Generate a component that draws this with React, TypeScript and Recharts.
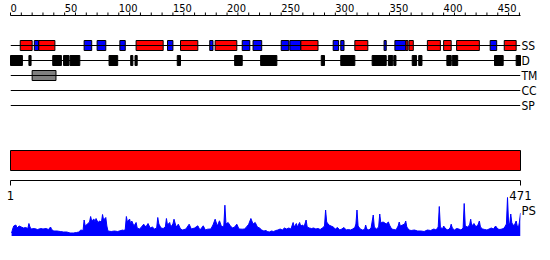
import React from 'react';
import { ComposedChart, XAxis, YAxis, ReferenceArea, Line, Scatter, Area } from 'recharts';

// ---------- data ----------
const SEQ_START = 1;
const SEQ_END = 471;
const topTicks = [0, 10, 20, 30, 40, 50, 60, 70, 80, 90, 100, 110, 120, 130, 140, 150, 160, 170, 180, 190, 200, 210, 220, 230, 240, 250, 260, 270, 280, 290, 300, 310, 320, 330, 340, 350, 360, 370, 380, 390, 400, 410, 420, 430, 440, 450, 460, 470];
const topLabels = [0, 50, 100, 150, 200, 250, 300, 350, 400, 450];
const bottomTicks = [1, 471];
const trackNames = ['SS', 'D', 'TM', 'CC', 'SP'];

const helices: [number, number][] = [
  [9, 20], [26, 41], [116, 141], [157, 173], [189, 209], [268, 284], [318, 330],
  [365, 367], [368, 372], [385, 397], [400, 407], [412, 433], [456, 467],
];
const strands: [number, number][] = [
  [22, 26], [68, 75], [80, 88], [101, 106], [145, 150], [184, 187], [214, 221],
  [224, 232], [250, 257], [258, 268], [298, 303], [305, 308], [345, 347], [355, 365], [443, 449],
];
const disorder: [number, number][] = [
  [0, 11], [17, 19], [39, 47], [49, 54], [55, 64], [91, 99], [111, 113], [115, 117],
  [154, 157], [207, 214], [231, 246], [287, 290], [305, 318], [334, 347], [349, 353],
  [354, 356], [371, 375], [377, 380], [403, 407], [408, 413], [447, 455], [467, 471],
];
const transmembrane: [number, number][] = [[20, 42]];
const coiledCoil: [number, number][] = [];
const signalPeptide: [number, number][] = [];

const psPoints: [number, number][] = [
  [1, 3], [2, 7], [3, 10], [5, 11], [6, 8], [8, 10], [10, 9], [12, 8], [14, 8.5], [16, 7.5],
  [17, 12.5], [18, 9], [19, 7], [22, 7.5], [25, 6.5], [28, 7.5], [30, 7], [33, 7.5], [35, 6.5],
  [37, 9], [38, 6.5], [40, 5], [43, 5], [46, 4.5], [49, 4], [52, 4], [55, 3], [58, 3], [61, 3.5],
  [63, 4], [65, 6], [67, 5.5], [68, 16], [69, 10], [71, 12], [73, 14], [74, 19.5], [75, 15],
  [77, 17], [78, 14], [79, 17.5], [81, 13], [82, 15], [84, 14], [85, 21.5], [86, 16], [88, 18.5],
  [89, 10], [90, 5], [93, 4.5], [96, 5], [99, 4.5], [102, 5.5], [104, 6], [105, 5], [106, 7],
  [107, 19.5], [108, 14], [110, 17], [111, 12], [112, 15], [114, 10], [116, 13.5], [117, 8],
  [119, 7], [121, 9], [123, 11.8], [125, 9], [127, 12.5], [129, 8], [131, 9], [133, 7], [135, 8],
  [136, 18.5], [137, 12], [139, 8], [141, 7.5], [143, 9], [144, 17.5], [145, 11], [147, 13.5],
  [148, 9], [150, 12], [151, 16.8], [153, 9], [155, 11.8], [157, 7], [159, 6], [162, 7],
  [165, 11.8], [167, 7], [170, 8], [173, 10.2], [175, 6], [178, 10.2], [180, 6], [182, 6.8],
  [185, 7], [187, 11], [189, 16.8], [191, 10], [193, 15.2], [195, 9], [197, 10], [198, 30.8],
  [199, 12], [201, 13.5], [203, 10.2], [205, 8], [207, 9], [209, 11.8], [211, 7], [214, 6.8],
  [216, 7], [218, 9], [220, 11.8], [222, 17.5], [224, 12], [226, 13.5], [228, 9], [230, 8],
  [232, 6], [234, 5], [236, 5.5], [237, 4.5], [239, 4], [241, 5], [243, 4.5], [245, 5.5],
  [247, 6], [249, 7], [251, 6], [253, 8], [255, 7], [257, 8], [259, 7], [261, 13.5], [262, 9],
  [264, 12.5], [265, 9], [267, 13.5], [268, 10], [270, 11], [271, 9], [273, 16], [274, 9],
  [276, 8], [278, 7.5], [280, 8], [282, 7], [284, 7.5], [286, 6.5], [288, 8], [290, 10],
  [291, 26], [292, 14], [294, 11], [296, 10], [298, 9], [300, 7], [302, 8.5], [304, 6], [306, 7],
  [308, 8.5], [310, 6], [312, 6.5], [314, 6], [316, 7], [318, 8.5], [319, 12], [320, 26],
  [321, 10], [323, 7], [325, 6], [327, 6.5], [328, 11], [329, 7], [331, 6], [333, 8], [335, 21],
  [336, 9], [338, 7], [340, 9], [341, 22], [342, 13], [344, 14], [345, 13.5], [347, 12],
  [349, 14], [350, 11], [352, 7], [354, 6.5], [356, 6], [358, 10], [359, 14], [360, 10],
  [362, 11], [364, 12], [365, 15], [366, 9], [368, 6], [370, 5.5], [373, 6], [376, 5], [379, 5],
  [382, 4.5], [385, 6], [388, 5.5], [391, 7], [393, 6], [395, 9], [396, 29.5], [397, 9],
  [399, 7], [400, 10], [402, 7], [404, 6], [406, 8], [407, 11.8], [408, 8], [410, 6],
  [412, 7.5], [414, 7], [416, 6], [418, 8], [419, 32.5], [420, 10], [422, 9], [424, 11],
  [425, 16.8], [426, 10], [428, 12.5], [430, 9], [432, 11.8], [433, 15], [434, 9], [436, 7],
  [438, 6.5], [440, 6], [442, 7], [444, 8], [446, 7], [448, 10], [450, 7], [452, 6.5], [454, 7],
  [456, 8], [458, 12], [459, 38.5], [460, 13], [461, 12], [462, 22], [463, 13], [465, 10],
  [467, 15], [468, 10], [469, 8], [470, 14], [471, 23],
];

// ---------- layout ----------
const FONT = "'DejaVu Sans Condensed', 'DejaVu Sans', sans-serif";
const TRACK_Y: Record<string, number> = { SS: 45.5, D: 60.5, TM: 75.5, CC: 90.5, SP: 105.5 };
const BOX_HALF = 5;
const SEQ_BAR_Y: [number, number] = [150.5, 170.5];
const PS_LABEL_Y = 26;

const psData = psPoints.map(([r, v]) => ({ x: r, v }));
const trackTicks = trackNames.map((n) => TRACK_Y[n]);
const seqEnds = [SEQ_START, SEQ_END].map((x) => ({ x, y: (SEQ_BAR_Y[0] + SEQ_BAR_Y[1]) / 2 }));

const TopTick = (props: any) => {
  const { x, y, payload } = props;
  if (!topLabels.includes(payload.value)) return <g />;
  return (
    <text x={x} y={y} textAnchor="start" fontSize={11} fill="#000" fontFamily={FONT}>
      {payload.value}
    </text>
  );
};

const BottomTick = (props: any) => {
  const { x, y, payload } = props;
  return (
    <text x={x} y={y} dy={12.5} textAnchor="middle" fontSize={13} fill="#000" fontFamily={FONT}>
      {payload.value}
    </text>
  );
};

const TrackTick = (props: any) => {
  const { x, y, payload } = props;
  const name = trackNames[trackTicks.indexOf(payload.value)];
  return (
    <text x={x} y={y} dy={4.4} textAnchor="start" fontSize={12} fill="#000" fontFamily={FONT}>
      {name}
    </text>
  );
};

const PsTick = (props: any) => {
  const { x, y } = props;
  return (
    <text x={x} y={y} dy={4.6} textAnchor="start" fontSize={13} fill="#000" fontFamily={FONT}>
      PS
    </text>
  );
};

const segs = (list: [number, number][], track: string, fill: string, prefix: string) =>
  list.map(([s, e], i) => (
    <ReferenceArea
      key={`${prefix}${i}`}
      xAxisId="top"
      yAxisId="t"
      x1={s}
      x2={e}
      y1={TRACK_Y[track] - BOX_HALF}
      y2={TRACK_Y[track] + BOX_HALF}
      fill={fill}
      fillOpacity={1}
      stroke="#000"
      strokeWidth={1}
      ifOverflow="visible"
    />
  ));

export default function App() {
  return (
    <div style={{ position: 'absolute', left: 0, top: 0, width: 550, height: 260, background: '#fff', fontFamily: FONT }}>
      <div style={{ position: 'absolute', left: 0, top: 190 }}>
        <ComposedChart width={550} height={46} data={psData} margin={{ top: 0, right: 0, bottom: 0, left: 10.5 }}>
          <XAxis dataKey="x" type="number" domain={[0, SEQ_END]} hide allowDataOverflow />
          <YAxis
            orientation="right"
            type="number"
            domain={[0, 46]}
            width={29.5}
            ticks={[PS_LABEL_Y]}
            interval={0}
            axisLine={false}
            tickLine={false}
            tickSize={0}
            tickMargin={1}
            tick={PsTick}
            allowDataOverflow
          />
          <Area
            dataKey="v"
            type="linear"
            stroke="#0000ff"
            strokeWidth={1}
            fill="#0000ff"
            fillOpacity={1}
            dot={false}
            activeDot={false}
            isAnimationActive={false}
          />
        </ComposedChart>
      </div>
      <div style={{ position: 'absolute', left: 0, top: 0 }}>
        <ComposedChart width={550} height={206} data={seqEnds} margin={{ top: 0.5, right: 0, bottom: 6, left: 10.5 }}>
          <XAxis
            xAxisId="top"
            dataKey="x"
            orientation="top"
            type="number"
            domain={[0, SEQ_END]}
            ticks={topTicks}
            interval={0}
            height={15}
            tickSize={3}
            tickMargin={1}
            stroke="#000"
            tick={TopTick}
            allowDataOverflow
          />
          <XAxis
            xAxisId="bot"
            dataKey="x"
            orientation="bottom"
            type="number"
            domain={[SEQ_START, SEQ_END]}
            ticks={bottomTicks}
            interval={0}
            height={19.5}
            tickSize={5}
            tickMargin={2}
            stroke="#000"
            tick={BottomTick}
            allowDataOverflow
          />
          <YAxis
            yAxisId="t"
            orientation="right"
            type="number"
            domain={[15.5, 180.5]}
            reversed
            width={29.5}
            ticks={trackTicks}
            interval={0}
            axisLine={false}
            tickLine={false}
            tickSize={0}
            tickMargin={1}
            tick={TrackTick}
            allowDataOverflow
          />
          {trackNames.map((n) => (
            <Line
              key={n}
              xAxisId="top"
              yAxisId="t"
              data={[{ x: 0, y: TRACK_Y[n] }, { x: SEQ_END, y: TRACK_Y[n] }]}
              dataKey="y"
              stroke="#000"
              strokeWidth={1}
              dot={false}
              activeDot={false}
              isAnimationActive={false}
            />
          ))}
          <Scatter xAxisId="bot" yAxisId="t" dataKey="y" shape={() => <g />} isAnimationActive={false} />
          {segs(helices, 'SS', '#ff0000', 'h')}
          {segs(strands, 'SS', '#0000ff', 'e')}
          {segs(disorder, 'D', '#000000', 'd')}
          {segs(transmembrane, 'TM', '#808080', 't')}
          {segs(coiledCoil, 'CC', '#00aa00', 'c')}
          {segs(signalPeptide, 'SP', '#ffaa00', 's')}
          <ReferenceArea
            xAxisId="bot"
            yAxisId="t"
            x1={SEQ_START}
            x2={SEQ_END}
            y1={SEQ_BAR_Y[0]}
            y2={SEQ_BAR_Y[1]}
            fill="#ff0000"
            fillOpacity={1}
            stroke="#000"
            strokeWidth={1}
            ifOverflow="visible"
          />
        </ComposedChart>
      </div>
    </div>
  );
}
